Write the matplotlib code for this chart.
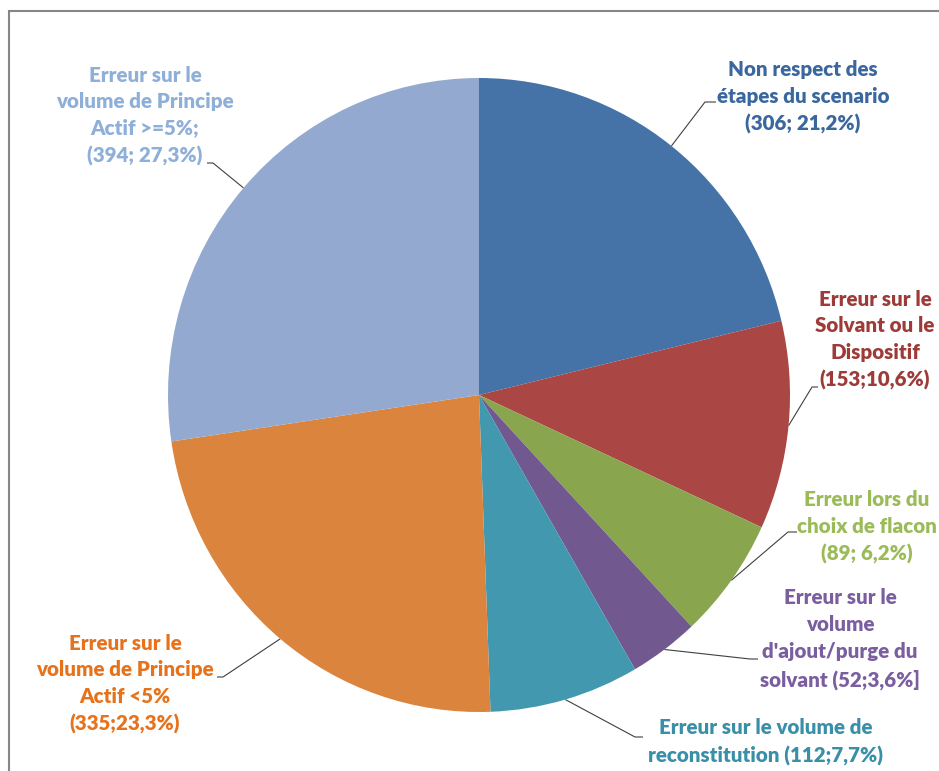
import numpy as np
import matplotlib
matplotlib.use("Agg")
import matplotlib.pyplot as plt
from matplotlib.patches import Rectangle

# ---- data ----
categories = [
    "Non respect des\nétapes du scenario\n(306; 21,2%)",
    "Erreur sur le\nSolvant ou le\nDispositif\n(153;10,6%)",
    "Erreur lors du\nchoix de flacon\n(89; 6,2%)",
    "Erreur sur le\nvolume\nd'ajout/purge du\nsolvant (52;3,6%]",
    "Erreur sur le volume de\nreconstitution (112;7,7%)",
    "Erreur sur le\nvolume de Principe\nActif <5%\n(335;23,3%)",
    "Erreur sur le\nvolume de Principe\nActif >=5%;\n(394; 27,3%)",
]
values = [306, 153, 89, 52, 112, 335, 394]

slice_colors = ["#4572A7", "#AA4643", "#89A54E", "#71588F", "#4198AF", "#DB843D", "#93A9CF"]
text_colors = ["#3A679E", "#9E3B38", "#9BBB59", "#7B5EA0", "#3A8FA8", "#E6731C", "#8EAFD8"]

# layout (pixel coords, y from top)
W, H = 939, 771
cx, cy, RX, RY = 479, 395, 311, 317
label_pos = [(803, 97), (875, 340), (867, 527), (840, 639), (766, 742), (125, 684), (145, 116)]
elbow = [((705, 102), (716, 102)), ((812, 387), (818, 387)), ((788, 532), (797, 532)),
         ((750, 659), (758, 659)), ((635, 737), (643, 737)), ((223, 677), (217, 677)),
         ((213, 163), (207, 163))]

fig = plt.figure(figsize=(W / 100, H / 100), dpi=100)
ax = fig.add_axes([0, 0, 1, 1])
ax.set_xlim(0, W)
ax.set_ylim(0, H)
ax.axis("off")

def Y(y):
    return H - y

# pie axes (slightly elliptical like the reference)
pax = fig.add_axes([(cx - RX) / W, (H - cy - RY) / H, 2 * RX / W, 2 * RY / H])
pax.pie(values, colors=slice_colors, startangle=90, counterclock=False,
        radius=1, wedgeprops=dict(linewidth=0))
pax.set_aspect("auto")
pax.set_xlim(-1, 1)
pax.set_ylim(-1, 1)
pax.axis("off")

# frame
ax.add_patch(Rectangle((9, Y(960)), 1000, 960 - 11, fill=False,
                       edgecolor="#868686", linewidth=1.5, clip_on=False))

total = sum(values)
cum = 0
for i, v in enumerate(values):
    mid = (cum + v / 2) / total * 2 * np.pi
    cum += v
    ex = cx + RX * np.sin(mid)
    ey = cy - RY * np.cos(mid)
    (x1, y1), (x2, y2) = elbow[i]
    ax.plot([ex, x1, x2], [Y(ey), Y(y1), Y(y2)], color="#404040", lw=0.8,
            solid_capstyle="butt", zorder=5)
    lx, ly = label_pos[i]
    ax.text(lx, Y(ly), categories[i], ha="center", va="center", color=text_colors[i],
            fontsize=14.8, fontweight="heavy", family=["Lato", "DejaVu Sans"],
            linespacing=1.48, multialignment="center")

fig.savefig("out.png", dpi=100)
